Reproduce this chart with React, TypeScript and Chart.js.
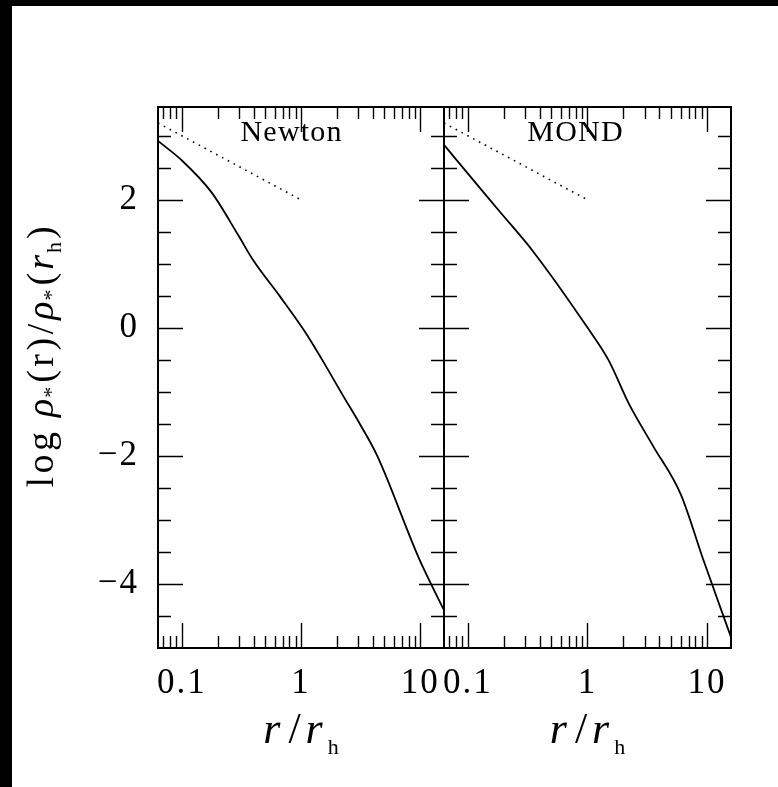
import React, { useEffect, useRef } from "react";
import { Chart, registerables } from "chart.js";

Chart.register(...registerables);

// ---- data ----
const xMin = 0.0631;
const xMax = 15.85;
const yMin = -5;
const yMax = 3.45;

const newtonR = [0.0631, 0.0995, 0.177, 0.297, 0.396, 0.661, 1.107, 1.507, 2.239, 3.162, 4.365, 9.77, 15.85];
const newtonLogRho = [2.92, 2.62, 2.12, 1.45, 1.06, 0.5, -0.09, -0.5, -1.05, -1.52, -2.0, -3.6, -4.41];

const mondR = [0.0631, 0.0805, 0.1858, 0.3524, 0.9863, 1.496, 2.239, 3.548, 6.026, 9.333, 15.85];
const mondLogRho = [2.86, 2.62, 1.81, 1.19, 0.02, -0.5, -1.2, -1.85, -2.6, -3.63, -4.83];

const slopeR = [0.0631, 1];
const slopeLogRho = [3.2, 2];

const xTickLabels = [0.1, 1, 10];
const xMinorTicks = [0.07, 0.08, 0.09, 0.2, 0.3, 0.4, 0.5, 0.6, 0.7, 0.8, 0.9, 2, 3, 4, 5, 6, 7, 8, 9];
const yTickLabels = [-4, -2, 0, 2];
const yMinorTicks = [-4.5, -3.5, -3, -2.5, -1.5, -1, -0.5, 0.5, 1, 1.5, 2.5, 3];

const panelNames = ["Newton", "MOND"];

const SERIF = "'Liberation Serif', 'Times New Roman', serif";

type Part = { text: string; font: string; dy?: number; gap?: number; ls?: number };

function partWidth(ctx: CanvasRenderingContext2D, p: Part) {
  ctx.font = p.font;
  const ls = p.ls || 0;
  let w = 0;
  const chars = Array.from(p.text);
  chars.forEach((c, i) => {
    w += ctx.measureText(c).width + (i < chars.length - 1 ? ls : 0);
  });
  return w + (p.gap || 0);
}

function drawRich(ctx: CanvasRenderingContext2D, parts: Part[], cx: number, baseline: number) {
  let total = 0;
  for (const p of parts) total += partWidth(ctx, p);
  let x = cx - total / 2;
  ctx.textAlign = "left";
  ctx.textBaseline = "alphabetic";
  for (const p of parts) {
    ctx.font = p.font;
    const ls = p.ls || 0;
    for (const c of Array.from(p.text)) {
      ctx.fillText(c, x, baseline + (p.dy || 0));
      x += ctx.measureText(c).width + ls;
    }
    x += (p.gap || 0) - ls;
  }
}

const spacingPlugin = {
  id: "spacing",
  beforeDraw(chart: any) {
    try {
      (chart.ctx as any).letterSpacing = "2px";
    } catch (e) {}
  },
  afterDraw(chart: any) {
    try {
      (chart.ctx as any).letterSpacing = "0px";
    } catch (e) {}
  },
};

const framePlugin = {
  id: "frameTicks",
  afterDatasetsDraw(chart: any) {
    const { ctx, chartArea: a, scales } = chart;
    const xs = scales.x;
    const ys = scales.y;
    ctx.save();
    ctx.strokeStyle = "#000";
    ctx.lineWidth = 1.4;
    ctx.beginPath();
    const vt = (v: number, len: number) => {
      const px = Math.round(xs.getPixelForValue(v)) + 0.5;
      if (px < a.left || px > a.right) return;
      ctx.moveTo(px, a.bottom);
      ctx.lineTo(px, a.bottom - len);
      ctx.moveTo(px, a.top);
      ctx.lineTo(px, a.top + len);
    };
    const ht = (v: number, len: number) => {
      const py = Math.round(ys.getPixelForValue(v)) + 0.5;
      ctx.moveTo(a.left, py);
      ctx.lineTo(a.left + len, py);
      ctx.moveTo(a.right, py);
      ctx.lineTo(a.right - len, py);
    };
    xTickLabels.forEach((v) => vt(v, 25));
    xMinorTicks.forEach((v) => vt(v, 12));
    yTickLabels.forEach((v) => ht(v, 25));
    yMinorTicks.forEach((v) => ht(v, 13));
    ctx.stroke();
    ctx.lineWidth = 2;
    ctx.strokeRect(a.left, a.top, a.width, a.height);
    ctx.restore();
  },
};

const textPlugin = {
  id: "panelText",
  afterDraw(chart: any) {
    const o = chart.options.plugins.panelText;
    const { ctx, chartArea: a } = chart;
    ctx.save();
    try {
      (ctx as any).letterSpacing = "0px";
    } catch (e) {}
    ctx.fillStyle = "#000";
    drawRich(ctx, [{ text: o.name, font: `30px ${SERIF}`, ls: 1.2 }], a.left + o.nameCx, a.top + 34);
    // x axis title
    const rf = `italic 44px ${SERIF}`;
    drawRich(
      ctx,
      [
        { text: "r", font: rf, gap: 8 },
        { text: "/", font: `44px ${SERIF}`, gap: 5 },
        { text: "r", font: rf, gap: 5 },
        { text: "h", font: `22px ${SERIF}`, dy: 11 },
      ],
      (a.left + a.right) / 2,
      743
    );
    if (o.yTitle) {
      ctx.translate(53, 357);
      ctx.rotate(-Math.PI / 2);
      const big = `38px ${SERIF}`;
      const it = `italic 38px ${SERIF}`;
      const sm = `22px ${SERIF}`;
      const ls = 3.5;
      drawRich(
        ctx,
        [
          { text: "log", font: big, ls, gap: 15 },
          { text: "ρ", font: it, gap: 1 },
          { text: "*", font: sm, dy: 5, gap: 4 },
          { text: "(r)/", font: big, ls, gap: 4 },
          { text: "ρ", font: it, gap: 1 },
          { text: "*", font: sm, dy: 5, gap: 4 },
          { text: "(", font: big, gap: 3 },
          { text: "r", font: it, gap: 2 },
          { text: "h", font: sm, dy: 8, gap: 3 },
          { text: ")", font: big },
        ],
        0,
        0
      );
    }
    ctx.restore();
  },
};

type PanelProps = {
  name: string;
  r: number[];
  rho: number[];
  showY: boolean;
  left: number;
  right: number;
  nameCx: number;
};

function Panel({ name, r, rho, showY, left, right, nameCx }: PanelProps) {
  const ref = useRef<HTMLCanvasElement | null>(null);
  useEffect(() => {
    if (!ref.current) return;
    const chart = new Chart(ref.current, {
      type: "line",
      data: {
        datasets: [
          {
            data: r.map((v, i) => ({ x: v, y: rho[i] })),
            borderColor: "#000",
            borderWidth: 1.8,
            pointRadius: 0,
            cubicInterpolationMode: "monotone",
            fill: false,
          },
          {
            data: slopeR.map((v, i) => ({ x: v, y: slopeLogRho[i] })),
            borderColor: "#000",
            borderWidth: 1.6,
            borderDash: [1.6, 5],
            pointRadius: 0,
            fill: false,
          },
        ],
      },
      options: {
        animation: false,
        responsive: false,
        events: [],
        layout: { padding: { left: 0, top: 107, right: 778 - right, bottom: 39 } },
        plugins: {
          legend: { display: false },
          tooltip: { enabled: false },
          panelText: { name, nameCx, yTitle: showY },
        } as any,
        scales: {
          x: {
            type: "logarithmic",
            min: xMin,
            max: xMax,
            grid: { display: false, drawTicks: false },
            border: { display: false },
            afterBuildTicks: (s: any) => {
              s.ticks = xTickLabels.map((v) => ({ value: v }));
            },
            afterFit: (s: any) => {
              s.height = 100;
            },
            ticks: {
              autoSkip: false,
              maxRotation: 0,
              padding: 15,
              color: "#000",
              font: { family: SERIF, size: 35 },
              callback: (v: any) => String(v),
            },
          },
          y: {
            type: "linear",
            min: yMin,
            max: yMax,
            grid: { display: false, drawTicks: false },
            border: { display: false },
            afterBuildTicks: (s: any) => {
              s.ticks = yTickLabels.map((v) => ({ value: v }));
            },
            afterFit: (s: any) => {
              s.width = left;
            },
            ticks: {
              display: showY,
              autoSkip: false,
              padding: 19,
              color: "#000",
              font: { family: SERIF, size: 35 },
              callback: (v: any) => (v < 0 ? "\u2212" + Math.abs(v) : String(v)),
            },
          },
        },
      },
      plugins: [spacingPlugin, framePlugin, textPlugin],
    });
    return () => chart.destroy();
  }, []);
  return (
    <canvas
      ref={ref}
      width={778}
      height={787}
      style={{ position: "absolute", left: 0, top: 0, width: 778, height: 787 }}
    />
  );
}

export default function App() {
  return (
    <div style={{ position: "fixed", left: 0, top: 0, width: 778, height: 787, background: "#000", overflow: "hidden" }}>
      <div style={{ position: "absolute", left: 12, top: 6, width: 766, height: 781, background: "#fff" }} />
      <Panel name={panelNames[0]} r={newtonR} rho={newtonLogRho} showY={true} left={158} right={444} nameCx={133} />
      <Panel name={panelNames[1]} r={mondR} rho={mondLogRho} showY={false} left={444} right={731} nameCx={131} />
    </div>
  );
}
